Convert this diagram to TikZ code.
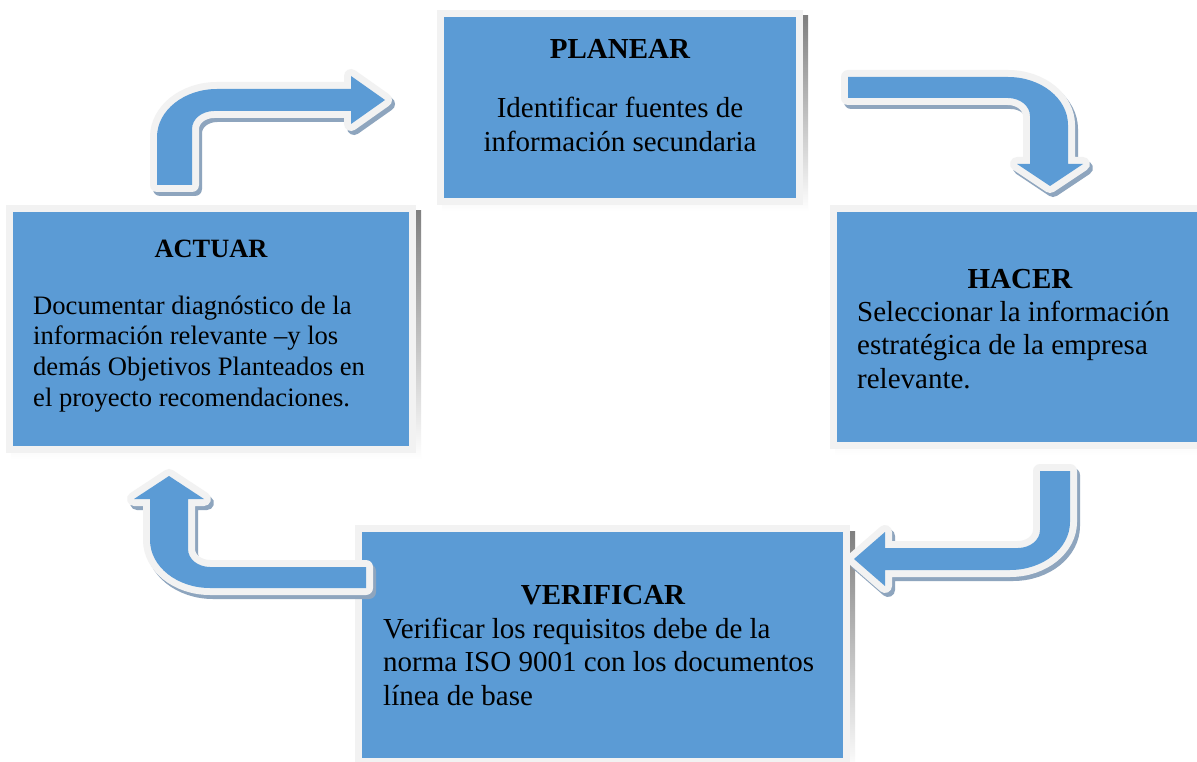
\documentclass[tikz,border=0pt]{standalone}
\usepackage{fontspec}
\setmainfont{Liberation Serif}[Ligatures=NoCommon]
\definecolor{boxblue}{HTML}{5B9BD5}
\definecolor{rimgray}{HTML}{F2F2F2}
\definecolor{shade}{HTML}{8EA5BE}
\tikzset{
  bodytxt/.style={font=\fontsize{29}{33}\selectfont, inner sep=0pt, text=black},
  headtxt/.style={font=\fontsize{29}{33}\selectfont\bfseries, inner sep=0pt, text=black},
  bodysm/.style={font=\fontsize{26.6}{30}\selectfont, inner sep=0pt, text=black},
  headsm/.style={font=\fontsize{26.4}{30}\selectfont\bfseries, inner sep=0pt, text=black},
}
\newcommand\bentarrow[1]{%
  \fill[shade,draw=shade,line width=14pt,line join=round,shift={(3,4)}] #1;
  \fill[rimgray,draw=rimgray,line width=14pt,line join=round] #1;
  \fill[boxblue] #1;}
\begin{document}
\begin{tikzpicture}[x=1pt,y=-1pt]
\useasboundingbox (0,0) rectangle (1197,762);
\clip (0,0) rectangle (1197,762);
\fill[white] (0,0) rectangle (1197,762);

% PLANEAR box
\fill[shade] (442,16) rectangle (808,211);
\fill[rimgray] (437,10) rectangle (803,205);
\fill[boxblue] (444,17) rectangle (796,198);
% ACTUAR box
\fill[shade] (11,211) rectangle (421,459);
\fill[rimgray] (6,205) rectangle (416,453);
\fill[boxblue] (13,212) rectangle (409,446);
% HACER box
\fill[shade] (835,211) rectangle (1215,455);
\fill[rimgray] (830,205) rectangle (1210,449);
\fill[boxblue] (837,212) rectangle (1203,442);
% VERIFICAR box
\fill[shade] (360,531) rectangle (855,771);
\fill[rimgray] (355,525) rectangle (850,765);
\fill[boxblue] (362,532) rectangle (843,758);

% Arrow ACTUAR -> PLANEAR
\bentarrow{(157,185) -- (157,137) .. controls (157,110.5) and (184,89) .. (217,89)
  -- (351,89) -- (351,76) -- (385,100) -- (351,124) -- (351,111) -- (214,111)
  .. controls (202,111) and (192,119) .. (192,129) -- (192,185) -- cycle}
% Arrow PLANEAR -> HACER
\bentarrow{(848,77) -- (1008,77) .. controls (1041,77) and (1068,98.5) .. (1068,125)
  -- (1068,164) -- (1083,164) -- (1050,186) -- (1017,164) -- (1030,164) -- (1030,116)
  .. controls (1030,106) and (1020,98) .. (1008,98) -- (848,98) -- cycle}
% Arrow HACER -> VERIFICAR
\bentarrow{(1040,471) -- (1070,471) -- (1070,522) .. controls (1070,548.5) and (1043,570) .. (1010,570)
  -- (885,570) -- (885,586) -- (854,559) -- (885,532) -- (885,548) -- (1018,548)
  .. controls (1030,548) and (1040,540) .. (1040,530) -- cycle}
% Arrow VERIFICAR -> ACTUAR
\bentarrow{(366,567) -- (366,588) -- (210,588) .. controls (177,588) and (150,566.5) .. (150,540)
  -- (150,499) -- (134,499) -- (169,476) -- (204,499) -- (188,499) -- (188,549)
  .. controls (188,559) and (198,567) .. (210,567) -- cycle}

% PLANEAR text
\node[headtxt, anchor=base] (planearT) at (620,59) {PLANEAR};
\node[bodytxt, anchor=base] (planearL1) at (620,118) {Identificar fuentes de};
\node[bodytxt, anchor=base] (planearL2) at (620,152) {información secundaria};
% ACTUAR text
\node[headsm, anchor=base] (actuarT) at (211,258) {ACTUAR};
\node[bodysm, anchor=base west] (actuarL1) at (33,314) {Documentar diagnóstico de la};
\node[bodysm, anchor=base west] (actuarL2) at (33,344.7) {información relevante –y los};
\node[bodysm, anchor=base west] (actuarL3) at (33,375.3) {demás Objetivos Planteados en};
\node[bodysm, anchor=base west] (actuarL4) at (33,406) {el proyecto recomendaciones.};
% HACER text
\node[headtxt, anchor=base] (hacerT) at (1020,288) {HACER};
\node[bodytxt, anchor=base west] (hacerL1) at (857,321) {Seleccionar la información};
\node[bodytxt, anchor=base west] (hacerL2) at (857,354.5) {estratégica de la empresa};
\node[bodytxt, anchor=base west] (hacerL3) at (857,388) {relevante.};
% VERIFICAR text
\node[headtxt, anchor=base] (verificarT) at (603,604) {VERIFICAR};
\node[bodytxt, anchor=base west] (verificarL1) at (383,638) {Verificar los requisitos debe de la};
\node[bodytxt, anchor=base west] (verificarL2) at (383,671.5) {norma ISO 9001 con los documentos};
\node[bodytxt, anchor=base west] (verificarL3) at (383,705) {línea de base};
\end{tikzpicture}
\end{document}
